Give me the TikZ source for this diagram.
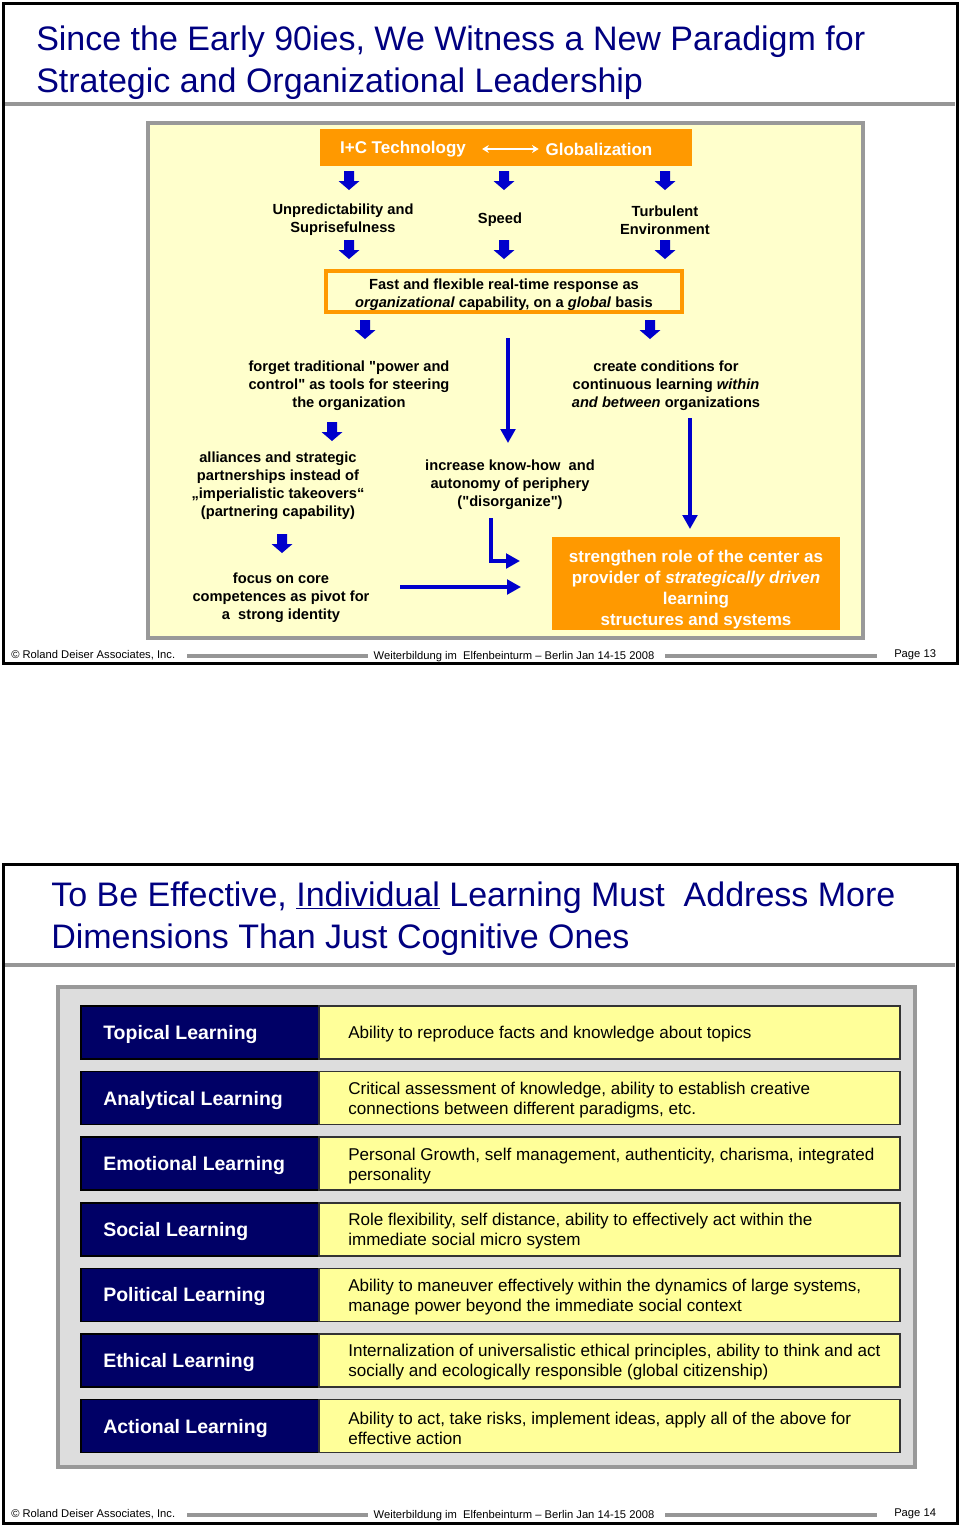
\documentclass[tikz,border=0pt]{standalone}
\usepackage{fontspec}
\setmainfont{Liberation Sans}
\usetikzlibrary{arrows.meta}
\definecolor{navytxt}{RGB}{0,0,128}
\definecolor{navybox}{RGB}{0,0,102}
\definecolor{arrblue}{RGB}{0,0,204}
\definecolor{orng}{RGB}{255,153,0}
\definecolor{paleyel}{RGB}{255,255,204}
\definecolor{rowyel}{RGB}{255,255,153}
\definecolor{panelgray}{RGB}{153,153,153}
\definecolor{lightgray}{RGB}{221,221,221}
\definecolor{linegray}{RGB}{150,150,150}
\begin{document}
\begin{tikzpicture}[x=0.75pt,y=-0.75pt,
  titletxt/.style={text=navytxt, font=\fontsize{25.5pt}{31.5pt}\selectfont, align=left, inner sep=0pt, anchor=base west},
  boldtxt/.style={font=\bfseries\fontsize{11pt}{13.5pt}\selectfont, align=center, inner sep=0pt},
  hdrtxt/.style={text=white, font=\bfseries\fontsize{12.75pt}{15pt}\selectfont, inner sep=0pt},
  foot/.style={font=\fontsize{8.4pt}{10pt}\selectfont, inner sep=0pt},
  footbar/.style={draw=linegray, line width=3pt},
  frame/.style={draw=black, line width=2.25pt},
  rule/.style={draw=linegray, line width=2.6pt},
  bluearr/.style={draw=arrblue, line width=2.4pt, -{Triangle[width=11pt,length=10.5pt]}},
  whitearr/.style={draw=white, line width=1.6pt, {Stealth[width=6pt,length=5pt]}-{Stealth[width=6pt,length=5pt]}},
  fatarrow/.pic={\fill[arrblue] (-5,0) -- (5,0) -- (5,10) -- (10.5,10) -- (0,19) -- (-10.5,10) -- (-5,10) -- cycle;},
  labtxt/.style={text=white, font=\bfseries\fontsize{14.6pt}{17pt}\selectfont, inner sep=0pt, anchor=west},
  desctxt/.style={font=\fontsize{12.8pt}{15pt}\selectfont, align=left, inner sep=0pt, anchor=west}
]
\useasboundingbox (0,0) rectangle (960,1525);
\fill[white] (0,0) rectangle (960,1525);

% ================= PAGE 1 =================
\draw[frame] (3,3) rectangle (957,663);
\node[titletxt] (title1) at (36,92) {Since the Early 90ies, We Witness a New Paradigm for\\Strategic and Organizational Leadership};
\draw[rule] (5,104) -- (955,104);

\draw[draw=panelgray, fill=paleyel, line width=2.6pt] (148,123) rectangle (863,638);

\node[fill=orng, minimum width=279pt, minimum height=27.75pt, inner sep=0pt] (topbox) at (506,147.5) {};
\node[hdrtxt] (ict) at (403,149) {I+C Technology};
\node[hdrtxt] (glob) at (599,149) {Globalization};
\draw[whitearr, shorten <=12pt, shorten >=5pt] (ict) -- (glob);

\pic at (349,171) {fatarrow};
\pic at (504,171) {fatarrow};
\pic at (665,171) {fatarrow};

\node[boldtxt] (unpred) at (343,220) {Unpredictability and\\Suprisefulness};
\node[boldtxt] (speed) at (500,220) {Speed};
\node[boldtxt] (turb) at (665,220) {Turbulent\\Environment};

\pic at (349,240) {fatarrow};
\pic at (504,240) {fatarrow};
\pic at (665,240) {fatarrow};

\node[draw=orng, line width=2.4pt, minimum width=267pt, minimum height=30.75pt, inner sep=0pt] (fastbox) at (504,291.5) {};
\node[boldtxt] (fast) at (504,295) {Fast and flexible real-time response as\\\textit{organizational} capability, on a \textit{global} basis};

\pic at (365,320) {fatarrow};
\pic at (650,320) {fatarrow};

\node[boldtxt] (forget) at (349,386) {forget traditional \textquotedbl power and\\control\textquotedbl\ as tools for steering\\the organization};
\node[boldtxt] (create) at (666,386) {create conditions for\\continuous learning \textit{within}\\\textit{and between} organizations};

\coordinate (a1s) at (508,338);
\coordinate (a1e) at (508,443);
\draw[bluearr] (a1s) -- (a1e);

\pic at (332,422) {fatarrow};

\node[boldtxt] (allia) at (278,486) {alliances and strategic\\partnerships instead of\\„imperialistic takeovers“\\(partnering capability)};
\node[boldtxt] (incr) at (510,485) {increase know-how\ \ and\\autonomy of periphery\\(\textquotedbl disorganize\textquotedbl)};

\coordinate (a2s) at (690,418);
\coordinate (a2e) at (690,529);
\draw[bluearr] (a2s) -- (a2e);

\pic at (282,534) {fatarrow};

\node[boldtxt] (focus) at (281,598) {focus on core\\competences as pivot for\\a\ \ strong identity};

\node[fill=orng, minimum width=216pt, minimum height=69.75pt, inner sep=0pt] (strbox) at (696,583.5) {};
\node[text=white, font=\bfseries\fontsize{12.75pt}{15.75pt}\selectfont, align=center, inner sep=0pt] (str) at (696,590) {strengthen role of the center as\\provider of \textit{strategically driven}\\learning\\structures and systems};

\coordinate (a3s) at (491,518);
\coordinate (a3e) at (520,561);
\draw[bluearr] (a3s) |- (a3e);
\coordinate (a4s) at (400,587);
\coordinate (a4e) at (521,587);
\draw[bluearr] (a4s) -- (a4e);

\node[foot, anchor=west] (copy1) at (11,655) {\textcopyright\ Roland Deiser Associates, Inc.};
\draw[footbar] (187,656) -- (368,656);
\node[foot] (wb1) at (514,657) {Weiterbildung im\ \ Elfenbeinturm – Berlin Jan 14-15 2008};
\draw[footbar] (665,656) -- (877,656);
\node[foot, anchor=west] (pg1) at (894,655) {Page 13};

% ================= PAGE 2 =================
\draw[frame] (3,864) rectangle (957,1523);
\node[titletxt] (title2) at (51,948) {To Be Effective, \underline{Individual} Learning Must\ \ Address More\\Dimensions Than Just Cognitive Ones};
\draw[rule] (5,965) -- (955,965);

\draw[draw=panelgray, fill=lightgray, line width=2.6pt] (58,987) rectangle (915,1467);

\foreach \i/\lab/\desc in {
  0/Topical Learning/{Ability to reproduce facts and knowledge about topics},
  1/Analytical Learning/{Critical assessment of knowledge, ability to establish creative\\connections between different paradigms, etc.},
  2/Emotional Learning/{Personal Growth, self management, authenticity, charisma, integrated\\personality},
  3/Social Learning/{Role flexibility, self distance, ability to effectively act within the\\immediate social micro system},
  4/Political Learning/{Ability to maneuver effectively within the dynamics of large systems,\\manage power beyond the immediate social context},
  5/Ethical Learning/{Internalization of universalistic ethical principles, ability to think and act\\socially and ecologically responsible (global citizenship)},
  6/Actional Learning/{Ability to act, take risks, implement ideas, apply all of the above for\\effective action}}{
  \pgfmathsetmacro{\yt}{1006+65.6*\i}
  \pgfmathsetmacro{\yb}{\yt+53}
  \pgfmathsetmacro{\yc}{\yt+28.5}
  \draw[fill=navybox, draw=black, line width=1.2pt] (81,\yt) rectangle (319,\yb);
  \draw[fill=rowyel, draw=black!80, line width=1.2pt] (319,\yt) rectangle (900,\yb);
  \node[labtxt] (lab\i) at (103,\yc) {\lab};
  \node[desctxt] (desc\i) at (348,\yc) {\desc};
}

\node[foot, anchor=west] (copy2) at (11,1514) {\textcopyright\ Roland Deiser Associates, Inc.};
\draw[footbar] (187,1515) -- (368,1515);
\node[foot] (wb2) at (514,1516) {Weiterbildung im\ \ Elfenbeinturm – Berlin Jan 14-15 2008};
\draw[footbar] (665,1515) -- (877,1515);
\node[foot, anchor=west] (pg2) at (894,1514) {Page 14};
\end{tikzpicture}
\end{document}
